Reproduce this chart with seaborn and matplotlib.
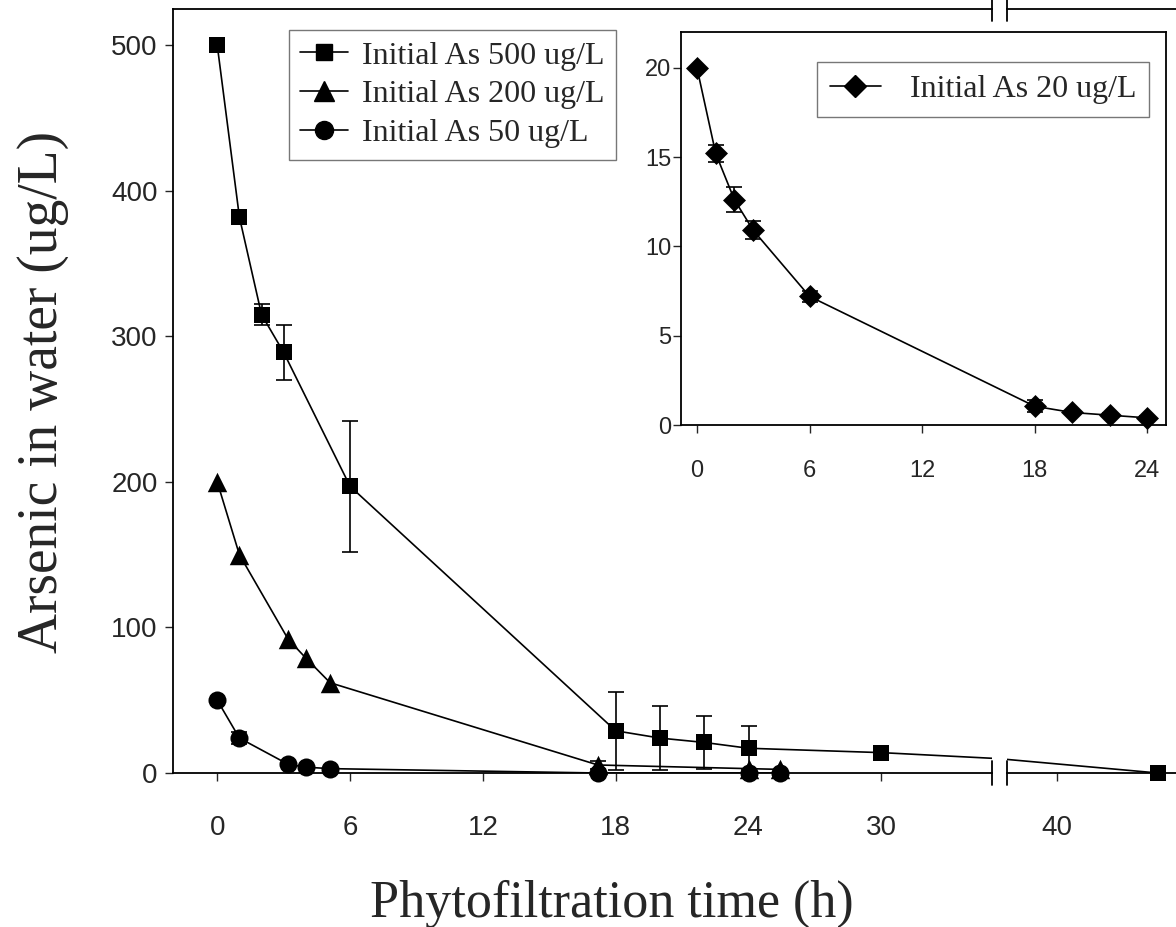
import numpy as np
import matplotlib
matplotlib.use("Agg")
import matplotlib.pyplot as plt
import seaborn as sns
from matplotlib.lines import Line2D

# data
t500 = [0, 1, 2, 3, 6, 18, 20, 22, 24, 30, 48]
as500 = [500, 382, 315, 289, 197, 29, 24, 21, 17, 14, 0]
err500 = [0, 4, 7, 19, 45, 27, 22, 18, 15, 0, 0]

t200 = [0, 1, 3.2, 4, 5.1, 17.2, 24, 25.4]
as200 = [200, 150, 92, 79, 62, 5.5, 3, 2.5]
err200 = [0, 0, 0, 0, 0, 2.5, 0, 0]

t50 = [0, 1, 3.2, 4, 5.1, 17.2, 24, 25.4]
as50 = [50, 24, 6, 4, 3, 0, 0, 0]
err50 = [0, 4, 0, 0, 0, 0, 0, 0]

t20 = [0, 1, 2, 3, 6, 18, 20, 22, 24]
as20 = [20, 15.2, 12.6, 10.9, 7.2, 1.05, 0.7, 0.55, 0.4]
err20 = [0, 0.5, 0.7, 0.5, 0.3, 0.35, 0.1, 0.1, 0.1]

labels_main = ["Initial As 500 ug/L", "Initial As 200 ug/L", "Initial As 50 ug/L"]
label_inset = "Initial As 20 ug/L"

sns.set_style("white")
plt.rcParams["font.family"] = ["Liberation Sans", "DejaVu Sans"]
serif = "Liberation Serif"

W, H = 1176, 927
fig = plt.figure(figsize=(W / 100, H / 100), dpi=100)


def box(l, t, r, b):
    return [l / W, 1 - b / H, (r - l) / W, (b - t) / H]


axL = fig.add_axes(box(173, 9, 992, 773))
axR = fig.add_axes(box(1007, 9, 1183, 773))
axIn = fig.add_axes(box(681, 32, 1166, 425))


def draw(ax, t, y, e, marker, ms, lo, hi):
    t = np.array(t, float)
    y = np.array(y, float)
    e = np.array(e, float)
    sns.lineplot(x=t, y=y, ax=ax, color="black", lw=1.2, sort=False, estimator=None)
    m = (t >= lo) & (t <= hi)
    me = m & (e > 0)
    if me.any():
        eb = ax.errorbar(t[me], y[me], yerr=e[me], fmt="none", ecolor="black",
                         elinewidth=1.2, capsize=6, capthick=1.2, zorder=2)
        for art in eb.lines[1] + eb.lines[2]:
            art.set_clip_on(False)
    if m.any():
        sns.scatterplot(x=t[m], y=y[m], ax=ax, marker=marker, s=ms ** 2, color="black",
                        edgecolor="black", linewidth=0, clip_on=False, zorder=3)


for ax, lo, hi in [(axL, -2, 35), (axR, 36, 50)]:
    draw(ax, t500, as500, err500, "s", 11.5, lo, hi)
    draw(ax, t50, as50, err50, "o", 13, lo, hi)
    draw(ax, t200, as200, err200, "^", 14, lo, hi)
    ax.set_xlim(lo, hi)
    ax.set_ylim(0, 525)
    ax.set_xlabel("")
    ax.set_ylabel("")

axL.set_xticks([0, 6, 12, 18, 24, 30])
axR.set_xticks([40])
axL.set_yticks([0, 100, 200, 300, 400, 500])
axR.set_yticks([])
axL.tick_params(axis="x", direction="out", length=6, width=1, pad=24, labelsize=20, bottom=True)
axR.tick_params(axis="x", direction="out", length=6, width=1, pad=24, labelsize=20, bottom=True)
axL.tick_params(axis="y", direction="out", length=6, width=1, pad=5, labelsize=20, left=True)

for sp in ["left", "bottom", "top"]:
    axL.spines[sp].set_visible(True)
    axL.spines[sp].set_color("black")
    axL.spines[sp].set_linewidth(1.3)
axL.spines["right"].set_visible(False)
for sp in ["bottom", "top"]:
    axR.spines[sp].set_color("black")
    axR.spines[sp].set_linewidth(1.3)
axR.spines["left"].set_visible(False)
axR.spines["right"].set_visible(False)

# axis break marks
d = 12 / 764
for ax, xb in [(axL, 1), (axR, 0)]:
    for yb in [0, 1]:
        ax.add_line(Line2D([xb, xb], [yb - d, yb + d], transform=ax.transAxes,
                           color="black", lw=1.3, clip_on=False))

# inset
draw(axIn, t20, as20, err20, "D", 11.7, -1, 25)
axIn.set_xlim(-0.85, 25)
axIn.set_ylim(0, 22)
axIn.set_xticks([0, 6, 12, 18, 24])
axIn.set_yticks([0, 5, 10, 15, 20])
axIn.set_xlabel("")
axIn.set_ylabel("")
axIn.set_facecolor("white")
axIn.tick_params(axis="x", direction="out", length=6, width=1, pad=19, labelsize=17, bottom=True)
axIn.tick_params(axis="y", direction="out", length=6, width=1, pad=1, labelsize=17, left=True)
for sp in axIn.spines.values():
    sp.set_visible(True)
    sp.set_color("black")
    sp.set_linewidth(1.3)

# legends
handles = [Line2D([], [], color="black", lw=1.2, marker=mk, ms=ms)
           for mk, ms in [("s", 11.5), ("^", 14), ("o", 13)]]
leg = fig.legend(handles, labels_main, loc="upper left", bbox_to_anchor=(289 / W, 1 - 30 / H),
                 frameon=True, fancybox=False, edgecolor="#555555",
                 prop={"family": serif, "size": 23}, handlelength=1.5, handletextpad=0.45,
                 labelspacing=0.3, borderpad=0.35, borderaxespad=0)
leg.get_frame().set_linewidth(1.0)

h20 = [Line2D([], [], color="black", lw=1.2, marker="D", ms=11.7)]
leg2 = axIn.legend(h20, [label_inset], loc="upper left", bbox_to_anchor=(817 / W, 1 - 62 / H),
                   bbox_transform=fig.transFigure, frameon=True, fancybox=False,
                   edgecolor="#555555", prop={"family": serif, "size": 23},
                   handlelength=1.6, handletextpad=0.9, borderpad=0.4, borderaxespad=0)
leg2.get_frame().set_linewidth(1.0)

fig.text(612 / W, 1 - 917 / H, "Phytofiltration time (h)", family=serif, size=37.5,
         ha="center", va="baseline")
fig.text(43 / W, 1 - 392 / H, "Arsenic in water (ug/L)", family=serif, size=40,
         ha="center", va="center", rotation=90)

fig.savefig("out.png", dpi=100, facecolor="white")
